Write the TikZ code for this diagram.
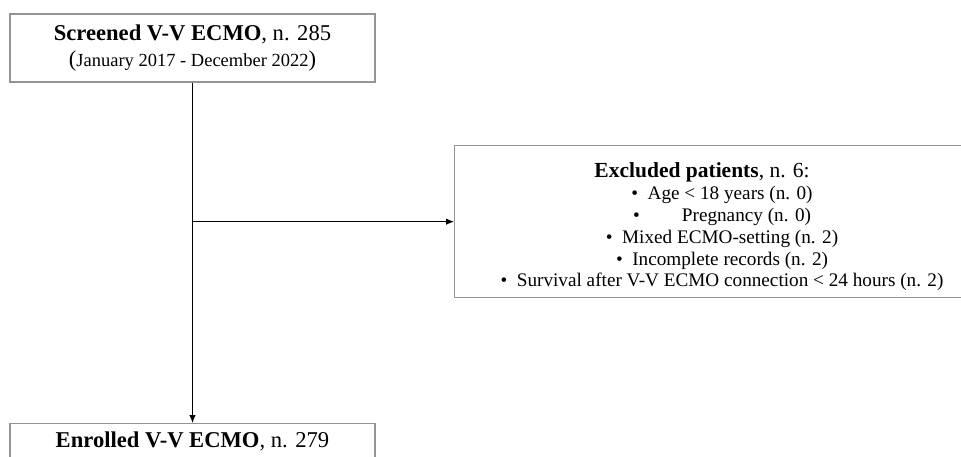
\documentclass[tikz,border=0pt]{standalone}
\usepackage{fontspec}
\setmainfont{Liberation Serif}
\usetikzlibrary{arrows.meta}

\tikzset{
  flowbox/.style={draw=black!42, line width=1.3pt, inner sep=0pt},
  flowarrow/.style={-{Latex[length=8pt,width=6.5pt]}, line width=1pt, black},
  bigfont/.style={font=\fontsize{22.6}{26}\selectfont},
  listfont/.style={font=\fontsize{19.2}{21.8}\selectfont}
}

\begin{document}
\begin{tikzpicture}[x=1pt,y=-1pt]
  \useasboundingbox (0,0) rectangle (961,457);
  \clip (0,0) rectangle (961,457);
  % boxes
  \node[flowbox, bigfont, minimum width=365pt, minimum height=68pt, align=center] (screened) at (192.5,48)
    {\textbf{Screened V-V ECMO}, n. 285\\
     ({\fontsize{18.5}{26}\selectfont January 2017 - December 2022})};
  \node[flowbox, bigfont, minimum width=365pt, anchor=north, text height=24pt, text depth=44pt] (enrolled) at (192.5,423)
    {\textbf{Enrolled V-V ECMO}, n. 279};
  \node[flowbox, minimum width=560pt, minimum height=152pt, anchor=north west] (excl) at (454,145) {};
  \node[listfont, align=center] (exclList) at (722,227)
    {{\fontsize{21.5}{22}\selectfont\textbf{Excluded patients}, n. 6:\hspace*{40pt}}\\
     \textbullet\ \ Age < 18 years (n. 0)\\
     \textbullet\hspace{2.2em}Pregnancy (n. 0)\\
     \textbullet\ \ Mixed ECMO-setting (n. 2)\\
     \textbullet\ \ Incomplete records (n. 2)\\
     \textbullet\ \ Survival after V-V ECMO connection < 24 hours (n. 2)};
  % connectors
  \coordinate (split) at (screened.south |- excl.west);
  \draw[flowarrow] (screened.south) -- (enrolled.north);
  \draw[flowarrow] (split) -- (excl.west);
\end{tikzpicture}
\end{document}
